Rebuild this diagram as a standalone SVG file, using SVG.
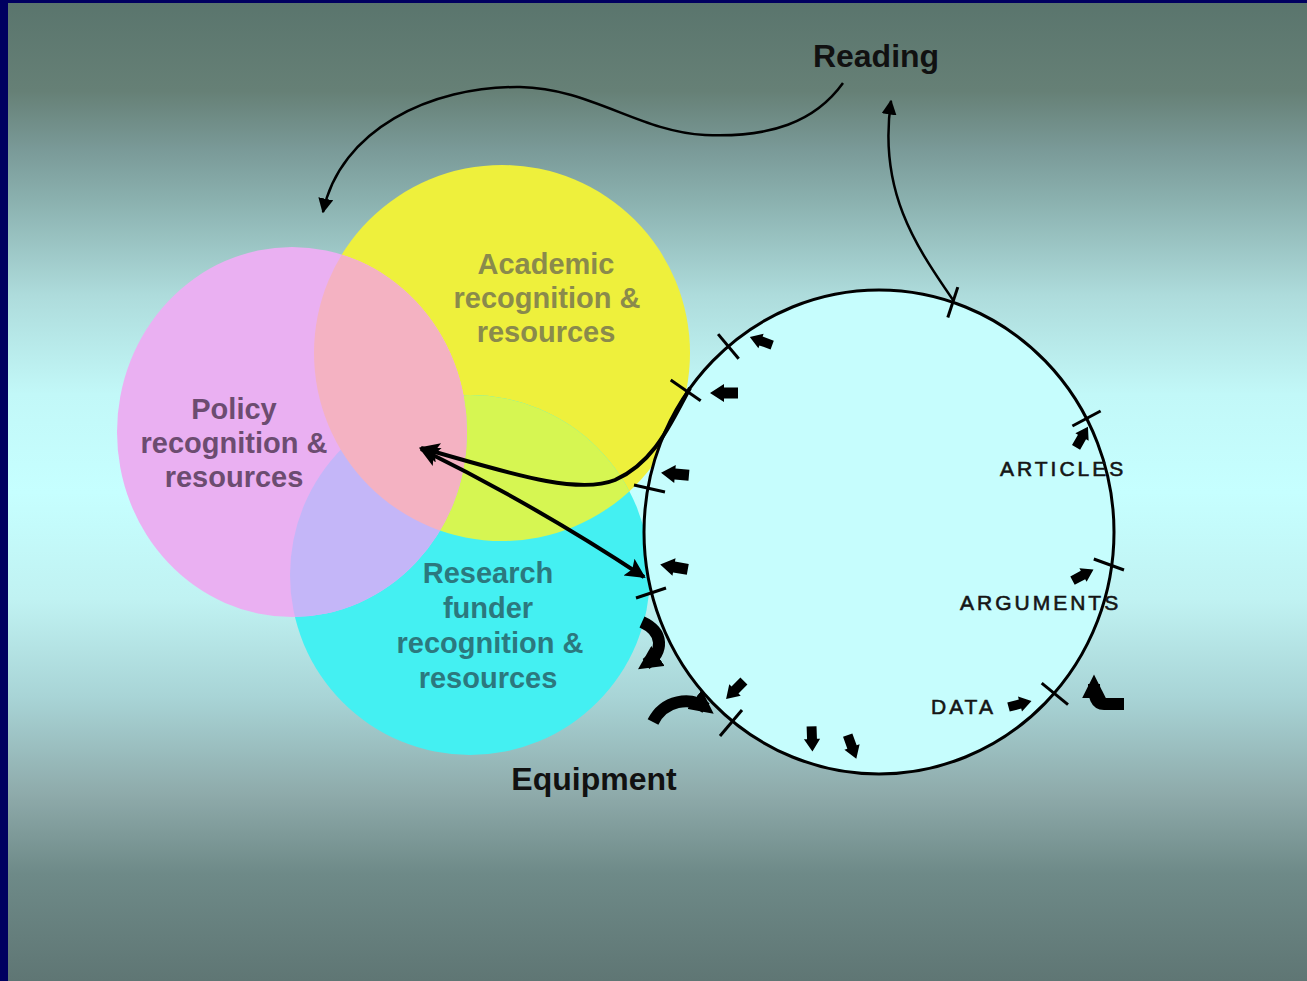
<svg xmlns="http://www.w3.org/2000/svg" xmlns:xlink="http://www.w3.org/1999/xlink" width="1307" height="981" viewBox="0 0 1307 981">
<defs>
<linearGradient id="bg" x1="0" y1="0" x2="0" y2="1">
<stop offset="0" stop-color="#5a756d"/>
<stop offset="0.09" stop-color="#668076"/>
<stop offset="0.15" stop-color="#7a9a98"/>
<stop offset="0.2" stop-color="#8ab0ae"/>
<stop offset="0.3" stop-color="#aedcdc"/>
<stop offset="0.4" stop-color="#c2f8f8"/>
<stop offset="0.5" stop-color="#c6ffff"/>
<stop offset="0.61" stop-color="#c0f2f2"/>
<stop offset="0.71" stop-color="#a8d4d6"/>
<stop offset="0.81" stop-color="#8eaaaa"/>
<stop offset="0.89" stop-color="#6e8a88"/>
<stop offset="1" stop-color="#5f7674"/>
</linearGradient>
<clipPath id="cY"><circle cx="502" cy="353" r="188"/></clipPath>
<clipPath id="cC"><ellipse cx="470" cy="575" rx="180" ry="180"/></clipPath>
<marker id="ahS" viewBox="0 0 10 10" refX="9" refY="5" markerWidth="15" markerHeight="15" markerUnits="userSpaceOnUse" orient="auto-start-reverse"><path d="M0,0 L10,5 L0,10 Z" fill="#000"/></marker>
<marker id="ahL" viewBox="0 0 10 10" refX="9" refY="5" markerWidth="22" markerHeight="20" markerUnits="userSpaceOnUse" orient="auto-start-reverse"><path d="M0,0 L10,5 L0,10 L2,5 Z" fill="#000"/></marker>
<marker id="ahB" viewBox="0 0 10 10" refX="6" refY="5" markerWidth="24" markerHeight="24" markerUnits="userSpaceOnUse" orient="auto"><path d="M0,0 L10,5 L0,10 Z" fill="#000"/></marker>
<path id="blk" d="M-14,-5.5 H0 V-9 L14,0 L0,9 V5.5 H-14 Z"/>
<style>
.lbl{font-family:"Liberation Sans",Arial,sans-serif;font-weight:bold;font-size:29px;text-anchor:middle}
.big{font-family:"Liberation Sans",Arial,sans-serif;font-weight:bold;font-size:32px;text-anchor:middle;fill:#111}
.sm{font-family:"Liberation Sans",Arial,sans-serif;font-size:21px;letter-spacing:3px;fill:#151515;stroke:#151515;stroke-width:0.6}
.tick{stroke:#000;stroke-width:3;fill:none}
.con{stroke:#000;fill:none}
.ba{fill:#000}
.cv{stroke:#000;stroke-width:12;fill:none;stroke-linecap:butt}
</style>
</defs>
<rect x="0" y="0" width="1307" height="981" fill="#000060"/>
<rect x="8" y="3" width="1299" height="978" fill="url(#bg)"/>

<g id="venn">
<g id="academic">
<circle cx="502" cy="353" r="188" fill="#eef03c"/>
</g>
<g id="funder">
<ellipse cx="470" cy="575" rx="180" ry="180" fill="#44f0f2"/>
</g>
<g id="policy">
<ellipse cx="292" cy="432" rx="175" ry="185" fill="#eab0f2"/>
</g>
<g id="overlaps">
<ellipse cx="470" cy="575" rx="180" ry="180" fill="#d6f652" clip-path="url(#cY)"/>
<ellipse cx="292" cy="432" rx="175" ry="185" fill="#c4b6f8" clip-path="url(#cC)"/>
<ellipse cx="292" cy="432" rx="175" ry="185" fill="#f4b2c2" clip-path="url(#cY)"/>
</g>
<g id="labels">
<text class="lbl" fill="#8a8a4c" x="546" y="274">Academic</text>
<text class="lbl" fill="#8a8a4c" x="547" y="308">recognition &amp;</text>
<text class="lbl" fill="#8a8a4c" x="546" y="342">resources</text>
<text class="lbl" fill="#6c4c70" x="234" y="419">Policy</text>
<text class="lbl" fill="#6c4c70" x="234" y="453">recognition &amp;</text>
<text class="lbl" fill="#6c4c70" x="234" y="487">resources</text>
<text class="lbl" fill="#2c787e" x="488" y="583">Research</text>
<text class="lbl" fill="#2c787e" x="488" y="618">funder</text>
<text class="lbl" fill="#2c787e" x="490" y="653">recognition &amp;</text>
<text class="lbl" fill="#2c787e" x="488" y="688">resources</text>
</g>
</g>

<g id="cycle">
<ellipse cx="879" cy="532" rx="235" ry="242" fill="#c6fdfd" stroke="#000" stroke-width="3"/>
<text class="sm" x="1000" y="476">ARTICLES</text>
<text class="sm" x="960" y="610">ARGUMENTS</text>
<text class="sm" x="931" y="714">DATA</text>
</g>

<g id="reading"><text class="big" x="876" y="67">Reading</text></g>
<g id="equipment"><text class="big" x="594" y="790">Equipment</text></g>

<g id="connectors">
<path class="con" stroke-width="2.5" d="M843,83 C815,122 770,138 705,135 C640,132 590,88 520,87 C430,86 340,130 323,212" marker-end="url(#ahS)"/>
<path class="con" stroke-width="2.5" d="M953,300 C915,245 878,190 891,101" marker-end="url(#ahS)"/>
<path class="con" stroke-width="4" d="M690,388 C672,420 656,462 615,480 C575,496 500,470 421,448" marker-end="url(#ahL)"/>
<path class="con" stroke-width="4" d="M421,449 Q535,505 644,577" marker-start="url(#ahL)" marker-end="url(#ahL)"/>
</g>

<g id="ticks">
<line class="tick" x1="947.8" y1="317.5" x2="957.8" y2="287.1"/>
<line class="tick" x1="738.7" y1="358.7" x2="718.1" y2="334.1"/>
<line class="tick" x1="700.7" y1="400.7" x2="670.7" y2="380.1"/>
<line class="tick" x1="665" y1="492" x2="634" y2="485"/>
<line class="tick" x1="666" y1="588" x2="636" y2="598"/>
<line class="tick" x1="742" y1="710" x2="720" y2="736"/>
<line class="tick" x1="1072.4" y1="426" x2="1100.6" y2="411"/>
<line class="tick" x1="1093.8" y1="559" x2="1124" y2="570"/>
<line class="tick" x1="1041.7" y1="683.2" x2="1068" y2="704.6"/>
</g>

<g id="flow-arrows">
<use xlink:href="#blk" class="ba" transform="translate(761,341) rotate(200) scale(0.85)"/>
<use xlink:href="#blk" class="ba" transform="translate(724,393) rotate(180)"/>
<use xlink:href="#blk" class="ba" transform="translate(675,474) rotate(185)"/>
<use xlink:href="#blk" class="ba" transform="translate(674,567) rotate(190)"/>
<use xlink:href="#blk" class="ba" transform="translate(735,690) rotate(135) scale(0.9)"/>
<use xlink:href="#blk" class="ba" transform="translate(812,739) rotate(88) scale(0.9)"/>
<use xlink:href="#blk" class="ba" transform="translate(852,747) rotate(70) scale(0.9)"/>
<use xlink:href="#blk" class="ba" transform="translate(1082,437) rotate(-60) scale(0.85)"/>
<use xlink:href="#blk" class="ba" transform="translate(1083,575) rotate(-28) scale(0.85)"/>
<use xlink:href="#blk" class="ba" transform="translate(1020,704) rotate(-15) scale(0.85)"/>
<path class="cv" d="M642,622 C664,632 664,652 646,664" marker-end="url(#ahB)"/>
<path class="cv" d="M653,722 C664,700 690,696 706,708" marker-end="url(#ahB)"/>
<path class="cv" d="M1124,704 H1104 C1096,704 1094,697 1094,684" marker-end="url(#ahB)"/>
</g>
</svg>
